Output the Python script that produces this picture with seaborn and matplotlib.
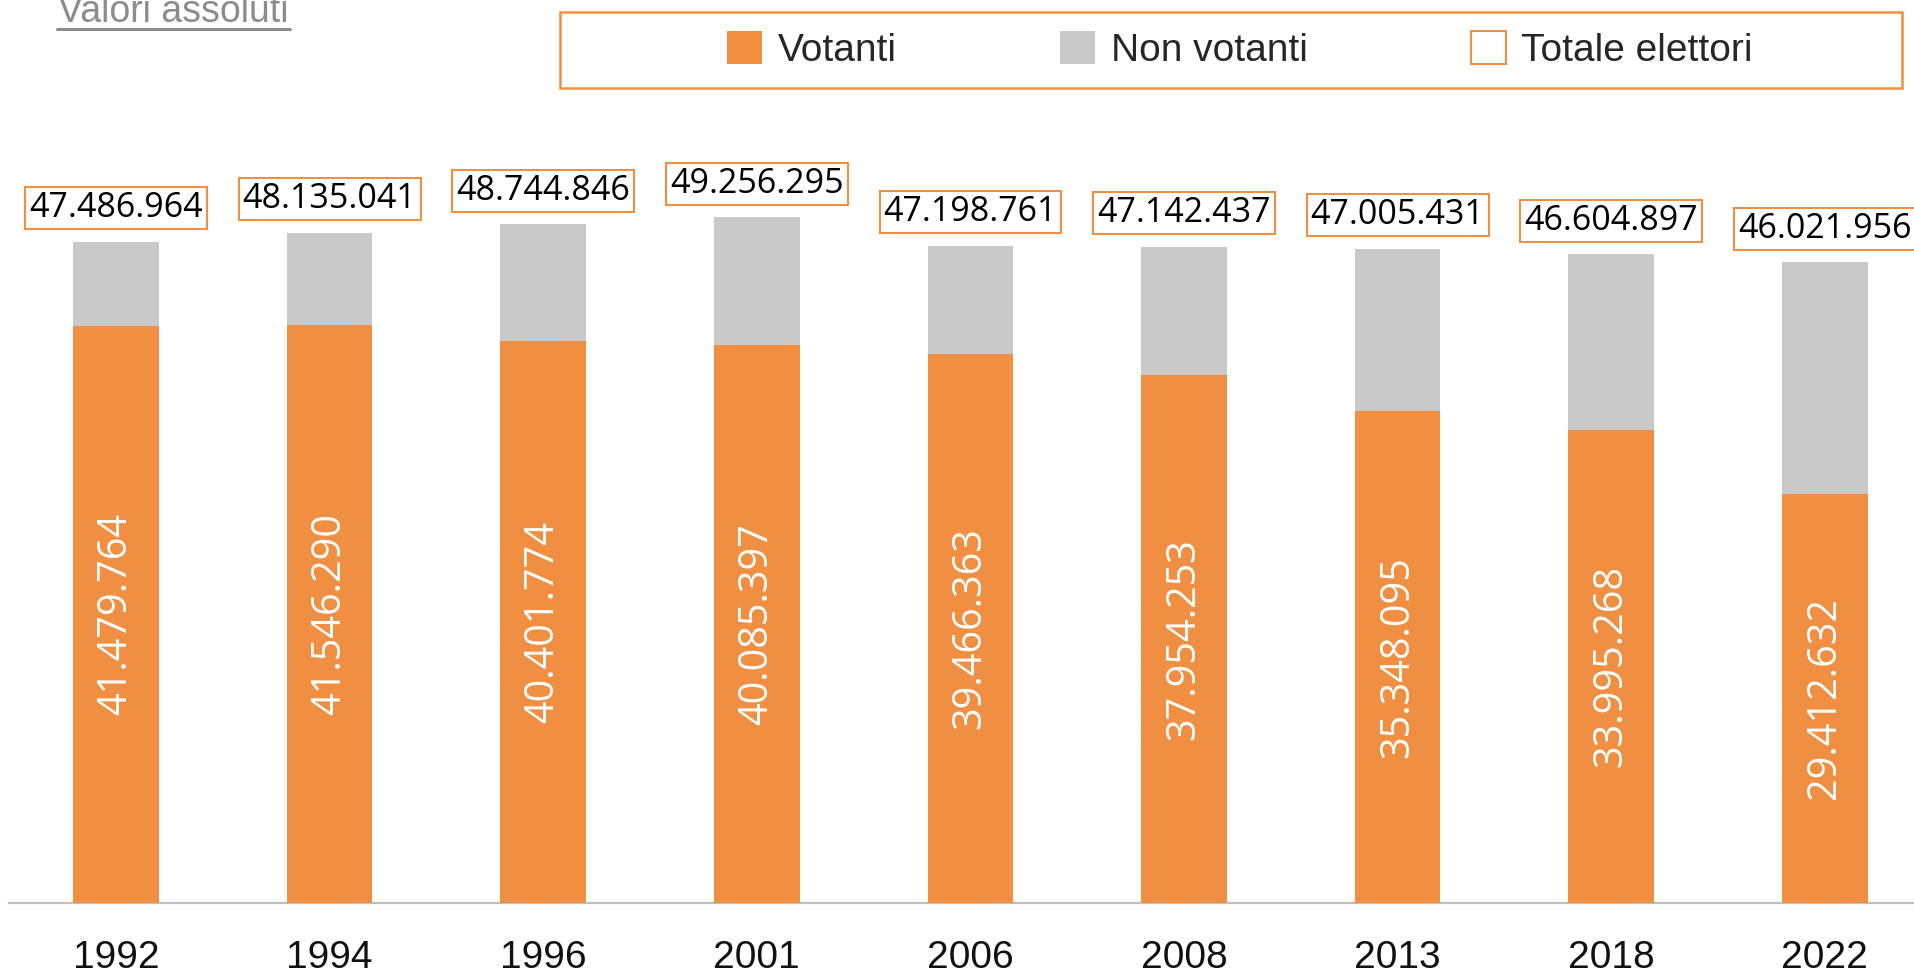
import matplotlib
matplotlib.use("Agg")
import matplotlib.pyplot as plt
import seaborn as sns
from matplotlib.patches import Rectangle, Patch
from matplotlib.lines import Line2D

# ---- data ----
years = ["1992", "1994", "1996", "2001", "2006", "2008", "2013", "2018", "2022"]
votanti = [41479764, 41546290, 40401774, 40085397, 39466363, 37954253, 35348095, 33995268, 29412632]
totale_elettori = [47486964, 48135041, 48744846, 49256295, 47198761, 47142437, 47005431, 46604897, 46021956]
legend_labels = ["Votanti", "Non votanti", "Totale elettori"]
title_text = "Valori assoluti"

ORANGE = "#F08F41"
GREY = "#C9C9C9"

sns.set_theme(style="white")
plt.rcParams["font.family"] = ["Liberation Sans", "DejaVu Sans"]

W, H = 1914, 976
fig = plt.figure(figsize=(W / 100, H / 100), dpi=100)

# axes placement (pixels converted to figure fractions)
left_px, bottom_px = 9.2, 73
width_px = 9 * 213.6
ymax = 60e6
height_px = ymax / 1e6 * 13.92
ax = fig.add_axes([left_px / W, bottom_px / H, width_px / W, height_px / H])

def fmt(v):
    return f"{v:,}".replace(",", ".")

# total bars (grey, the non-voter portion shows above the orange)
sns.barplot(x=years, y=totale_elettori, color=GREY, saturation=1, width=0.4, ax=ax,
            zorder=2, linewidth=0)
sns.barplot(x=years, y=votanti, color=ORANGE, saturation=1, width=0.4, ax=ax,
            zorder=3, linewidth=0)

ax.set_xlim(-0.5, len(years) - 0.5)
ax.set_ylim(0, ymax)

label_font = ["Open Sans", "DejaVu Sans"]
for i, (v, t) in enumerate(zip(votanti, totale_elettori)):
    ax.text(i, v / 2, fmt(v), rotation=90, ha="center", va="center",
            color="white", fontsize=28.5, family=label_font, zorder=5)
    ax.annotate(fmt(t), xy=(i, t), xytext=(0, 12), textcoords="offset points",
                ha="center", va="bottom", fontsize=24.5, family=label_font, color="black",
                bbox=dict(boxstyle="square,pad=0.12", fc="white", ec=ORANGE, lw=1.5),
                annotation_clip=False, zorder=6)

for s in ["top", "right", "left"]:
    ax.spines[s].set_visible(False)
ax.spines["bottom"].set_color("#BFBFBF")
ax.spines["bottom"].set_linewidth(1.6)
ax.set_yticks([])
ax.set_ylabel("")
ax.set_xlabel("")
ax.tick_params(axis="x", length=0, pad=27, labelsize=28, labelcolor="#111111")

# title (cut at top, underlined)
fig.text(58 / W, 1 - 22 / H, title_text, ha="left", va="baseline", fontsize=27,
         color="#8C8C8C", family=["Liberation Sans", "DejaVu Sans"])
fig.add_artist(Line2D([57 / W, 290 / W], [1 - 29 / H, 1 - 29 / H], color="#8C8C8C",
                      lw=2.2, transform=fig.transFigure))

# legend
handles = [Patch(facecolor=ORANGE, edgecolor="none"),
           Patch(facecolor=GREY, edgecolor="none"),
           Patch(facecolor="white", edgecolor=ORANGE, lw=1.5)]
fig.legend(handles, legend_labels, loc="center", bbox_to_anchor=(1240 / W, 1 - 50 / H),
           ncol=3, frameon=False, handlelength=0.9, handleheight=0.9, handletextpad=0.4,
           columnspacing=4.2, prop={"family": ["Liberation Sans", "DejaVu Sans"], "size": 28})
fig.add_artist(Rectangle((560 / W, 1 - 88 / H), 1342 / W, 76 / H, fill=False,
                         edgecolor=ORANGE, lw=1.8, transform=fig.transFigure))

fig.savefig("out.png", dpi=100)
